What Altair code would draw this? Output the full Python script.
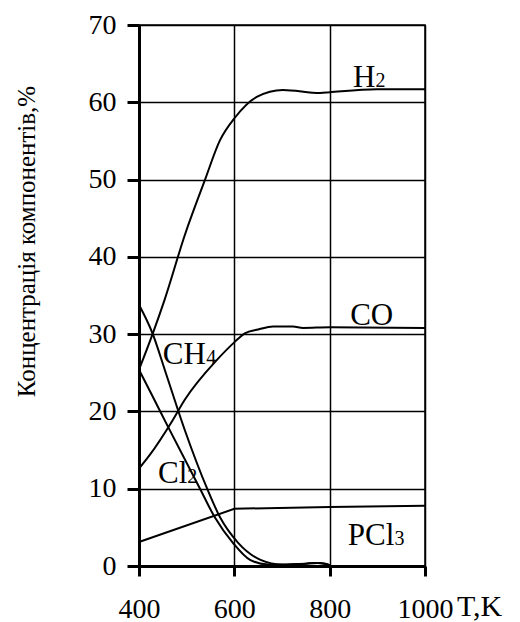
import altair as alt
import pandas as pd

# ---- data ----
h2_t = [400, 429, 454, 496, 538, 570, 601, 647, 702, 780, 800, 899, 1000]
h2_v = [25.4, 30.1, 34.5, 42.8, 49.9, 55.1, 58.0, 60.7, 61.6, 61.2, 61.3, 61.7, 61.7]

co_t = [400, 423, 471, 496, 564, 601, 622, 650, 681, 723, 744, 800, 1000]
co_v = [12.6, 14.4, 18.9, 21.5, 26.7, 29.0, 30.1, 30.6, 31.0, 31.0, 30.8, 30.9, 30.8]

ch4_t = [400, 429, 454, 496, 543, 570, 608, 655, 700, 750, 775, 790, 800]
ch4_v = [33.8, 30.0, 25.4, 17.6, 10.0, 6.3, 3.0, 0.8, 0.2, 0.3, 0.4, 0.3, 0.1]

cl2_t = [400, 429, 461, 528, 559, 597, 633, 670, 700, 750, 775, 790, 800]
cl2_v = [25.4, 21.9, 18.0, 10.0, 6.3, 3.0, 0.8, 0.2, 0.15, 0.3, 0.4, 0.3, 0.1]

pcl3_t = [400, 600, 800, 1000]
pcl3_v = [3.1, 7.4, 7.65, 7.8]

label_main = ["H", "CO", "CH", "Cl", "PCl"]
label_t = [849, 843, 450, 440, 838]
label_v = [62.0, 31.2, 26.1, 10.7, 2.7]
sub_text = ["2", "4", "2", "3"]
sub_t = [896, 541, 501, 936]
sub_v = [62.0, 26.1, 10.7, 2.7]

x_ticks = [400, 600, 800, 1000]
y_ticks = [0, 10, 20, 30, 40, 50, 60, 70]
y_title = "Концентрація компонентів,%"
x_unit = "T,K"

rows = []
for name, ts, vs in [("H2", h2_t, h2_v), ("CO", co_t, co_v),
                     ("CH4", ch4_t, ch4_v), ("Cl2", cl2_t, cl2_v)]:
    for t, v in zip(ts, vs):
        rows.append({"series": name, "T": t, "v": v})
df_smooth = pd.DataFrame(rows)
df_pcl3 = pd.DataFrame({"series": "PCl3", "T": pcl3_t, "v": pcl3_v})
df_lab = pd.DataFrame({"txt": label_main, "T": label_t, "v": label_v})
df_sub = pd.DataFrame({"txt": sub_text, "T": sub_t, "v": sub_v})
df_unit = pd.DataFrame({"T": [x_ticks[-1]], "v": [y_ticks[0]], "txt": [x_unit]})

FONT = "Liberation Serif"

X = alt.X("T:Q", scale=alt.Scale(domain=[400, 1000], nice=False, zero=False),
          axis=alt.Axis(values=x_ticks, title=None, format="d", grid=True,
                        gridColor="black", gridWidth=1.5, gridOpacity=1,
                        domainColor="black", domainWidth=3,
                        tickColor="black", tickWidth=3, tickSize=10,
                        labelFont=FONT, labelFontSize=28, labelColor="black",
                        labelFontWeight="normal",
                        labelPadding=19, labelFlush=False, labelOverlap=False))
Y = alt.Y("v:Q", scale=alt.Scale(domain=[0, 70], nice=False),
          axis=alt.Axis(values=y_ticks, title=y_title, format="d", grid=True,
                        gridColor="black", gridWidth=1.5, gridOpacity=1,
                        domainColor="black", domainWidth=3,
                        tickColor="black", tickWidth=3, tickSize=12,
                        labelFont=FONT, labelFontSize=28, labelColor="black",
                        labelFontWeight="normal",
                        labelPadding=11, labelFlush=False, labelOverlap=False,
                        titleFont=FONT, titleFontSize=25, titleFontWeight="normal",
                        titleColor="black", titleAngle=270, titleAlign="center",
                        titleBaseline="middle", titleX=-113, titleY=216))

smooth = alt.Chart(df_smooth).mark_line(
    interpolate="monotone", color="black", strokeWidth=2
).encode(x=X, y=Y, detail="series:N")

pcl3 = alt.Chart(df_pcl3).mark_line(color="black", strokeWidth=2).encode(x=X, y=Y)

lab_main = alt.Chart(df_lab).mark_text(
    align="left", baseline="alphabetic", font=FONT, fontSize=31, color="black"
).encode(x=X, y=Y, text="txt:N")

lab_sub = alt.Chart(df_sub).mark_text(
    align="left", baseline="alphabetic", font=FONT, fontSize=20, color="black"
).encode(x=X, y=Y, text="txt:N")

unit = alt.Chart(df_unit).mark_text(
    align="left", baseline="alphabetic", font=FONT, fontSize=30, color="black",
    dx=32, dy=50
).encode(x=X, y=Y, text="txt:N")

chart = alt.layer(smooth, pcl3, lab_main, lab_sub, unit).properties(
    width=286, height=541,
    padding={"left": 139, "top": 25, "right": 95, "bottom": 56},
    autosize=alt.AutoSizeParams(type="none"),
    background="white",
).configure(
    font=FONT,
    view={"stroke": "black", "strokeWidth": 1.5},
    axis={"labelFont": FONT, "titleFont": FONT,
          "labelFontWeight": "normal", "titleFontWeight": "normal"},
    style={"guide-label": {"font": FONT, "fontWeight": "normal"},
           "guide-title": {"font": FONT, "fontWeight": "normal"}},
)

chart.save("out.html", embed_options={"renderer": "svg", "actions": False})
